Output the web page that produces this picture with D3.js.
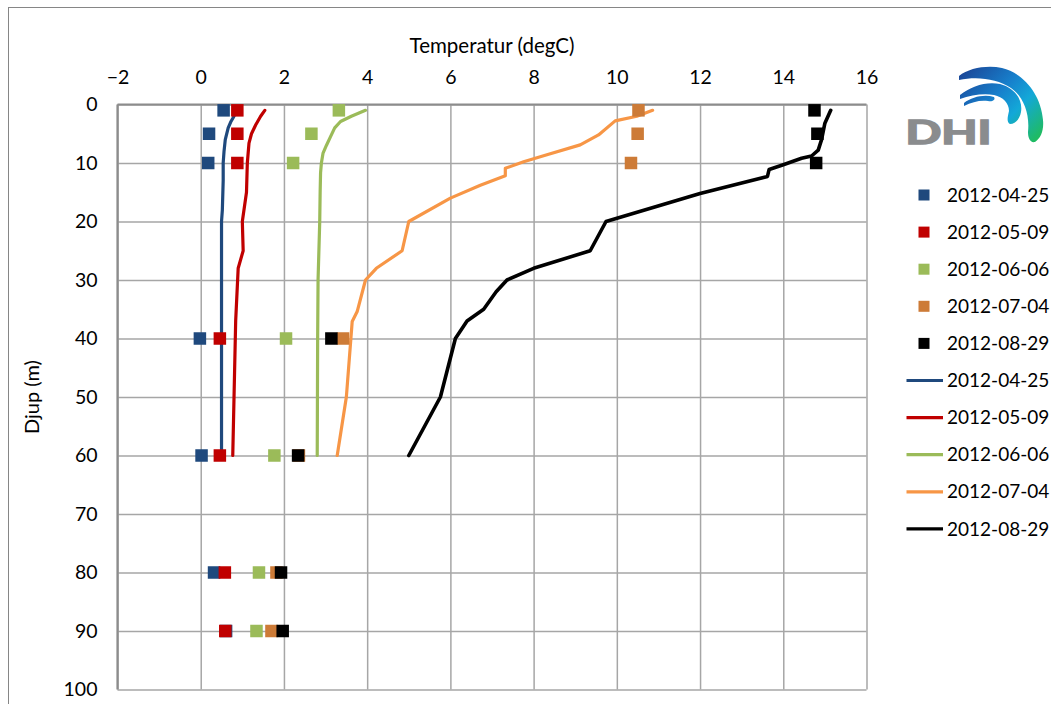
<!DOCTYPE html>
<html>
<head>
<meta charset="utf-8">
<script src="https://cdn.jsdelivr.net/npm/d3@7"></script>
<style>
  html, body { margin: 0; padding: 0; background: #fff; }
  svg { display: block; }
  text { font-family: Lato, "Open Sans", sans-serif; }
</style>
</head>
<body>
<svg id="chart" width="1051" height="704"></svg>
<script>
// Temperature profiles (degC) against depth (m)
const xTicks = [-2, 0, 2, 4, 6, 8, 10, 12, 14, 16];
const yTicks = [0, 10, 20, 30, 40, 50, 60, 70, 80, 90, 100];

const dates = ["2012-04-25", "2012-05-09", "2012-06-06", "2012-07-04", "2012-08-29"];
const markerColors = ["#1F497D", "#C00000", "#9BBB59", "#CD7B37", "#000000"];
const lineColors = ["#1F497D", "#C00000", "#9BBB59", "#F79646", "#000000"];

// Sampled bottle values
const sampleDepths = [1, 5, 10, 40, 60, 80, 90];
const sample0425 = [0.55, 0.20, 0.18, -0.02, 0.02, 0.32, 0.61];
const sample0509 = [0.88, 0.88, 0.88, 0.46, 0.46, 0.58, 0.59];
const sample0606 = [3.32, 2.66, 2.22, 2.05, 1.77, 1.40, 1.34];
const sample0704 = [10.52, 10.50, 10.34, 3.42, 2.36, 1.82, 1.70];
const sample0829 = [14.75, 14.82, 14.79, 3.14, 2.34, 1.93, 1.97];

// Continuous CTD profiles
const ctdDepth0425 = [2, 3, 4, 6, 8, 10, 13, 18, 20, 30, 40, 50, 60];
const ctdTemp0425 = [0.80, 0.72, 0.66, 0.59, 0.56, 0.54, 0.54, 0.52, 0.50, 0.50, 0.50, 0.50, 0.50];
const ctdDepth0509 = [1, 2, 3.5, 5, 6.6, 10, 15, 20, 25, 28, 37, 60];
const ctdTemp0509 = [1.54, 1.44, 1.32, 1.22, 1.16, 1.12, 1.10, 1.00, 1.02, 0.90, 0.84, 0.77];
const ctdDepth0606 = [1, 2, 2.9, 4, 5.5, 7, 8.3, 10, 11.7, 15, 20, 30, 40, 60];
const ctdTemp0606 = [3.96, 3.62, 3.36, 3.22, 3.12, 3.02, 2.94, 2.90, 2.88, 2.87, 2.86, 2.82, 2.81, 2.80];
const ctdDepth0704 = [1, 2, 2.8, 5.2, 6.9, 8.6, 9.8, 10.9, 12.2, 13.8, 16, 20, 25, 28, 30, 35.4, 37.1, 50, 60];
const ctdTemp0704 = [10.86, 10.48, 9.96, 9.56, 9.12, 8.32, 7.76, 7.32, 7.32, 6.72, 6.00, 5.00, 4.84, 4.22, 3.96, 3.76, 3.64, 3.50, 3.28];
const ctdDepth0829 = [1, 3.2, 6, 7.8, 8.8, 9.2, 10.3, 11.1, 12.3, 15.2, 20, 25, 28, 30, 32, 35, 37, 40, 50, 60];
const ctdTemp0829 = [15.14, 15.00, 14.92, 14.84, 14.68, 14.44, 14.00, 13.66, 13.62, 12.00, 9.74, 9.36, 8.00, 7.36, 7.10, 6.80, 6.40, 6.12, 5.76, 5.00];

const samples = [sample0425, sample0509, sample0606, sample0704, sample0829];
const ctdDepths = [ctdDepth0425, ctdDepth0509, ctdDepth0606, ctdDepth0704, ctdDepth0829];
const ctdTemps = [ctdTemp0425, ctdTemp0509, ctdTemp0606, ctdTemp0704, ctdTemp0829];

const svg = d3.select("#chart");
const plot = { left: 117.5, right: 866.5, top: 104.5, bottom: 689.5 };

const x = d3.scaleLinear().domain([-2, 16]).range([plot.left, plot.right]);
const y = d3.scaleLinear().domain([0, 100]).range([plot.top, plot.bottom]);

// Outer chart frame
svg.append("rect")
  .attr("x", 8.5).attr("y", 7.5).attr("width", 1100).attr("height", 760)
  .attr("fill", "#fff").attr("stroke", "#868686").attr("stroke-width", 1);

// Gridlines
const gridX = svg.append("g").attr("transform", `translate(0,${plot.top})`)
  .call(d3.axisBottom(x).tickValues(xTicks).tickSize(plot.bottom - plot.top).tickFormat(""));
const gridY = svg.append("g").attr("transform", `translate(${plot.left},0)`)
  .call(d3.axisRight(y).tickValues(yTicks).tickSize(plot.right - plot.left).tickFormat(""));
[gridX, gridY].forEach(g => {
  g.select(".domain").remove();
  g.selectAll(".tick line").attr("stroke", "#A6A6A6").attr("stroke-width", 1.5);
});

// Axis lines
svg.append("line").attr("x1", plot.left).attr("x2", plot.right)
  .attr("y1", plot.top).attr("y2", plot.top)
  .attr("stroke", "#8C8C8C").attr("stroke-width", 2.2);
svg.append("line").attr("x1", plot.left).attr("x2", plot.left)
  .attr("y1", plot.top).attr("y2", plot.bottom)
  .attr("stroke", "#8C8C8C").attr("stroke-width", 2.2);

// Tick labels
const xAxis = svg.append("g").attr("transform", `translate(0,${plot.top})`)
  .call(d3.axisTop(x).tickValues(xTicks).tickSize(0).tickPadding(21).tickFormat(d3.format("d")));
const yAxis = svg.append("g").attr("transform", `translate(${plot.left},0)`)
  .call(d3.axisLeft(y).tickValues(yTicks).tickSize(0).tickPadding(20).tickFormat(d3.format("d")));
[xAxis, yAxis].forEach(g => {
  g.select(".domain").remove();
  g.selectAll("text").attr("font-family", "Lato, sans-serif").attr("font-size", 19.5).attr("fill", "#000");
});

// Axis titles
svg.append("text")
  .attr("x", (plot.left + plot.right) / 2).attr("y", 53)
  .attr("text-anchor", "middle").attr("font-size", 20.5).attr("fill", "#000")
  .text("Temperatur (degC)");
svg.append("text")
  .attr("transform", `translate(39,${(plot.top + plot.bottom) / 2}) rotate(-90)`)
  .attr("text-anchor", "middle").attr("font-size", 20).attr("fill", "#000")
  .text("Djup (m)");

// Profile lines
const line = d3.line().x(d => x(d[1])).y(d => y(d[0]));
ctdDepths.forEach((depths, i) => {
  const pts = depths.map((d, k) => [d, ctdTemps[i][k]]);
  svg.append("path").datum(pts)
    .attr("d", line)
    .attr("fill", "none")
    .attr("stroke", lineColors[i])
    .attr("stroke-width", i === 4 ? 3.6 : 3.2)
    .attr("stroke-linejoin", "round")
    .attr("stroke-linecap", "round");
});

// Sample markers
const ms = 12.5;
samples.forEach((vals, i) => {
  svg.append("g").selectAll("rect")
    .data(vals.map((v, k) => [sampleDepths[k], v]))
    .join("rect")
    .attr("x", d => x(d[1]) - ms / 2)
    .attr("y", d => y(d[0]) - ms / 2)
    .attr("width", ms).attr("height", ms)
    .attr("fill", markerColors[i]);
});

// Legend
const legX = 906.5, legTextX = 947, legY0 = 195, legStep = 37.1;
const legendItems = dates.map((d, i) => ({ label: d, type: "marker", color: markerColors[i] }))
  .concat(dates.map((d, i) => ({ label: d, type: "line", color: lineColors[i] })));
const leg = svg.append("g").selectAll("g").data(legendItems).join("g")
  .attr("transform", (d, i) => `translate(0,${legY0 + i * legStep})`);
leg.filter(d => d.type === "marker").append("rect")
  .attr("x", 918.5).attr("y", -5.5).attr("width", 11).attr("height", 11)
  .attr("fill", d => d.color);
leg.filter(d => d.type === "line").append("line")
  .attr("x1", legX).attr("x2", 943).attr("y1", 0).attr("y2", 0)
  .attr("stroke", d => d.color).attr("stroke-width", 3.2);
leg.append("text")
  .attr("x", legTextX).attr("y", 0).attr("dy", "0.35em")
  .attr("font-size", 19).attr("fill", "#000")
  .text(d => d.label);

// DHI logo
const defs = svg.append("defs");
const grad = defs.append("linearGradient").attr("id", "wave")
  .attr("gradientUnits", "userSpaceOnUse")
  .attr("x1", 965).attr("y1", 72).attr("x2", 1035).attr("y2", 140);
grad.append("stop").attr("offset", "0").attr("stop-color", "#1B4A9B");
grad.append("stop").attr("offset", "0.4").attr("stop-color", "#1780CC");
grad.append("stop").attr("offset", "0.65").attr("stop-color", "#13A8D8");
grad.append("stop").attr("offset", "1").attr("stop-color", "#1FBB62");

const logo = svg.append("g");
logo.append("path")
  .attr("d", "M959,76 C969,68 987,65 1002,68 C1023,73 1041,94 1043,120 C1044,130 1041,138 1035,142 C1030,143 1028,138 1028,132 C1030,113 1023,96 1011,88 C997,79 978,76 959,80 Z")
  .attr("fill", "url(#wave)");
logo.append("path")
  .attr("d", "M960,95 C971,86 987,81 1000,84 C1015,88 1023,100 1021,112 C1020,118 1016,124 1010,124 C1006,122 1008,116 1009,111 C1009,103 1003,97 994,95 C984,93 971,95 960,99 Z")
  .attr("fill", "url(#wave)");
logo.append("path")
  .attr("d", "M964,103 C972,97 984,94 994,97 C996,100 992,102 988,101 C980,100 972,102 964,106 Z")
  .attr("fill", "url(#wave)");
logo.append("text")
  .attr("x", 905.5).attr("y", 143.5)
  .attr("font-family", "'Liberation Sans', Arial, sans-serif")
  .attr("font-weight", 700).attr("font-size", 32)
  .attr("textLength", 86).attr("lengthAdjust", "spacingAndGlyphs")
  .attr("fill", "#8A8C8E").attr("stroke", "#8A8C8E").attr("stroke-width", 1.6)
  .attr("stroke-linejoin", "miter")
  .text("DHI");
</script>
</body>
</html>
